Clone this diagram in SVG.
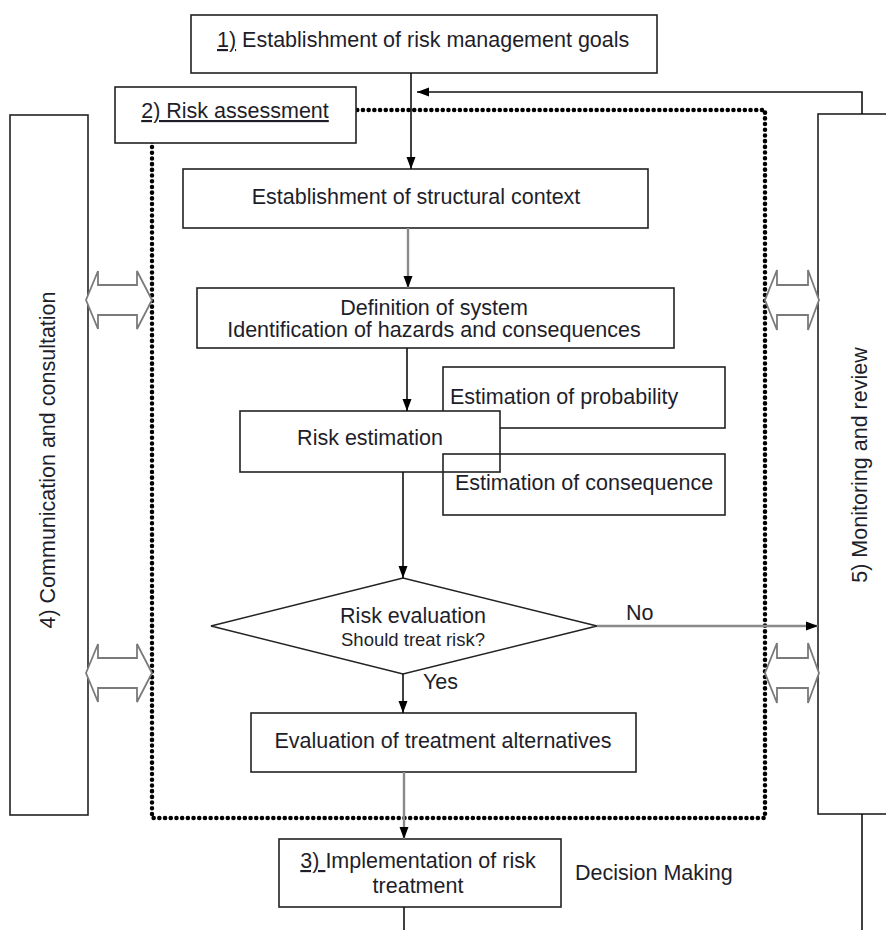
<svg xmlns="http://www.w3.org/2000/svg" width="886" height="930" viewBox="0 0 886 930">
<style>
  .box { fill: #fff; stroke: #222; stroke-width: 1.6; }
  .open { fill: none; stroke: #222; stroke-width: 1.6; }
  .t { font-family: "Liberation Sans", Arial, sans-serif; font-size: 21.5px; fill: #1e1e2a; }
  .c { text-anchor: middle; }
  .u { text-decoration: underline; }
  .dot { fill: none; stroke: #000; stroke-width: 4.5; stroke-linecap: round; stroke-dasharray: 0.1 5.6; }
  .blk { stroke: #111; stroke-width: 1.6; fill: none; }
  .gry { stroke: #8a8a8a; stroke-width: 2.4; fill: none; }
  .dbl { fill: #fff; stroke: #7a7a7a; stroke-width: 1.8; }
</style>
<defs>
  <marker id="ah" markerUnits="userSpaceOnUse" markerWidth="12" markerHeight="12" viewBox="0 0 12 12" refX="12" refY="6" orient="auto">
    <path d="M0,1.5 L12,6 L0,10.5 Z" fill="#000"/>
  </marker>
</defs>
<rect width="886" height="930" fill="#fff"/>

<g id="risk-assessment-area">
  <rect class="dot" x="152" y="110" width="613" height="708"/>
</g>

<g id="n4-communication">
  <rect class="box" x="10" y="115" width="78" height="700"/>
  <text class="t c" x="55" y="460" transform="rotate(-90 55 460)">4) Communication and consultation</text>
</g>

<g id="n5-monitoring">
  <rect class="box" x="818" y="114" width="100" height="700"/>
  <text class="t c" x="867" y="465" transform="rotate(-90 867 465)">5) Monitoring and review</text>
</g>

<g id="n1-goals">
  <rect class="box" x="191" y="15" width="466" height="58"/>
  <text class="t" x="217" y="47"><tspan class="u">1)</tspan> Establishment of risk management goals</text>
</g>

<g id="n2-risk-assessment">
  <rect class="box" x="115" y="87" width="241" height="56"/>
  <text class="t c u" x="235" y="118">2) Risk assessment</text>
</g>

<g id="n-structural-context">
  <rect class="box" x="183" y="169" width="465" height="59"/>
  <text class="t c" x="416" y="204">Establishment of structural context</text>
</g>

<g id="n-definition">
  <rect class="box" x="197" y="288" width="477" height="60"/>
  <text class="t c" x="434" y="315">Definition of system</text>
  <text class="t c" x="434" y="337">Identification of hazards and consequences</text>
</g>

<g id="n-probability">
  <rect class="box" x="443" y="367" width="282" height="61"/>
  <text class="t" x="450" y="404">Estimation of probability</text>
</g>

<g id="n-risk-estimation">
  <rect class="box" x="240" y="411" width="260" height="61"/>
  <text class="t c" x="370" y="445">Risk estimation</text>
</g>

<g id="n-consequence">
  <rect class="open" x="443" y="454" width="282" height="61"/>
  <text class="t" x="455" y="490">Estimation of consequence</text>
</g>

<g id="n-risk-evaluation">
  <polygon class="box" points="211,626 403,578 597,626 403,674"/>
  <text class="t c" x="413" y="623">Risk evaluation</text>
  <text class="t c" x="413" y="646" style="font-size:18.5px">Should treat risk?</text>
</g>

<g id="n-treatment-alternatives">
  <rect class="box" x="251" y="713" width="385" height="59"/>
  <text class="t c" x="443" y="748">Evaluation of treatment alternatives</text>
</g>

<g id="n3-implementation">
  <rect class="box" x="279" y="839" width="282" height="68"/>
  <text class="t c" x="418" y="868"><tspan class="u">3) </tspan>Implementation of risk</text>
  <text class="t c" x="418" y="893">treatment</text>
</g>

<g id="decision-making-label">
  <text class="t" x="575" y="880">Decision Making</text>
</g>

<g id="exchange-arrows">
  <path class="dbl" d="M86,300 L98,271 L98,285 L137,285 L137,271 L152,300 L137,329 L137,315 L98,315 L98,329 Z"/>
  <path class="dbl" d="M86,673 L98,644 L98,658 L137,658 L137,644 L152,673 L137,702 L137,688 L98,688 L98,702 Z"/>
  <path class="dbl" d="M765,300 L777,270 L777,285 L808,285 L808,270 L819,300 L808,330 L808,315 L777,315 L777,330 Z"/>
  <path class="dbl" d="M765,673 L777,643 L777,658 L808,658 L808,643 L819,673 L808,703 L808,688 L777,688 L777,703 Z"/>
</g>

<g id="connectors">
  <line class="blk" x1="411" y1="73" x2="411" y2="169" marker-end="url(#ah)"/>
  <polyline class="blk" points="862,114 862,92 417,92" marker-end="url(#ah)"/>
  <line class="gry" x1="408" y1="228" x2="408" y2="288" marker-end="url(#ah)"/>
  <line class="blk" x1="407" y1="348" x2="407" y2="411" stroke="#444" marker-end="url(#ah)"/>
  <line class="blk" x1="403" y1="472" x2="403" y2="578" marker-end="url(#ah)"/>
  <line class="blk" x1="403" y1="674" x2="403" y2="713" stroke="#333" marker-end="url(#ah)"/>
  <line class="gry" x1="597" y1="626" x2="818" y2="626" marker-end="url(#ah)"/>
  <line class="gry" x1="404" y1="772" x2="404" y2="839" stroke="#777" marker-end="url(#ah)"/>
  <line class="blk" x1="404" y1="907" x2="404" y2="930"/>
  <line class="blk" x1="862" y1="814" x2="862" y2="930"/>
  <text class="t" x="626" y="620">No</text>
  <text class="t" x="423" y="689">Yes</text>
</g>
</svg>
